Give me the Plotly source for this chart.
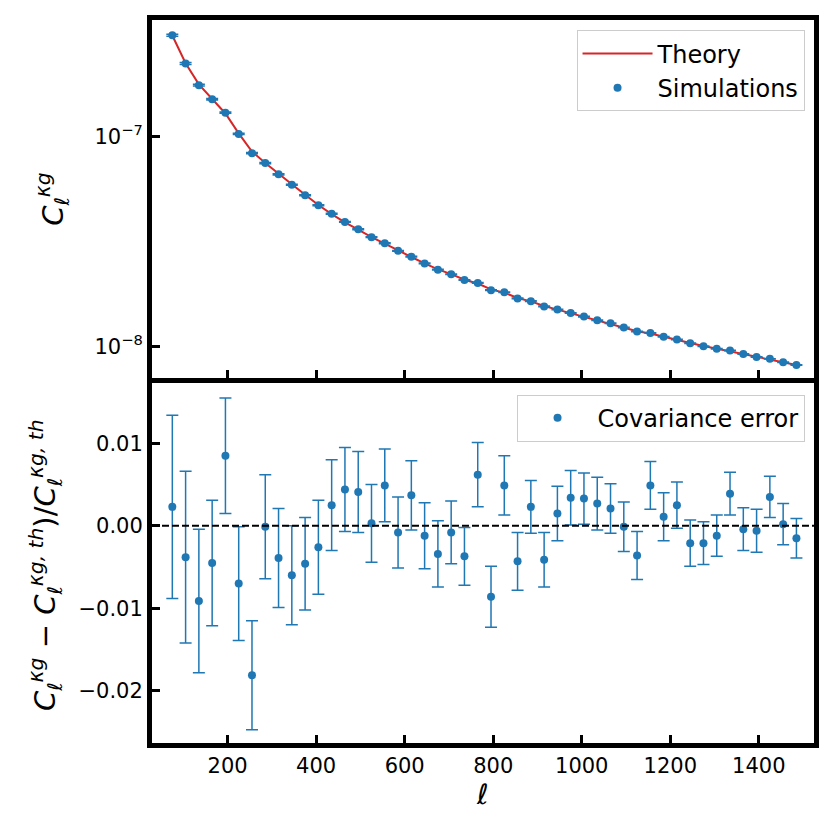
import plotly.graph_objects as go
from plotly.subplots import make_subplots

# multipole bin centres
ell = [75, 105, 135, 165, 195, 225, 255, 285, 315, 345, 375, 405, 435, 465, 495, 525,
       555, 585, 615, 645, 675, 705, 735, 765, 795, 825, 855, 885, 915, 945, 975, 1005,
       1035, 1065, 1095, 1125, 1155, 1185, 1215, 1245, 1275, 1305, 1335, 1365, 1395,
       1425, 1455, 1485]

# C_ell^{kg}, in units of 1e-7
cl_theory = [3.050, 2.250, 1.783, 1.519, 1.294, 1.040, 0.852, 0.750, 0.665, 0.594,
             0.529, 0.473, 0.428, 0.391, 0.361, 0.332, 0.309, 0.286, 0.267, 0.249,
             0.233, 0.221, 0.208, 0.1995, 0.1869, 0.1803, 0.1700, 0.1639, 0.1557, 0.1497,
             0.1438, 0.1381, 0.1328, 0.1285, 0.1230, 0.1181, 0.1152, 0.1110, 0.1075,
             0.1036, 0.1003, 0.0974, 0.0950, 0.0919, 0.0890, 0.0868, 0.0840, 0.0815]
cl_sim = [3.057, 2.2415, 1.7668, 1.5122, 1.3050, 1.0327, 0.8366, 0.7499, 0.6624, 0.5904,
          0.5266, 0.4718, 0.4291, 0.3927, 0.3625, 0.3321, 0.3105, 0.2858, 0.2680, 0.2487,
          0.2322, 0.2208, 0.2072, 0.2007, 0.1853, 0.1812, 0.1693, 0.1643, 0.1551, 0.1499,
          0.1443, 0.1386, 0.1332, 0.1288, 0.1230, 0.1177, 0.1158, 0.1111, 0.1078, 0.1034,
          0.1001, 0.0973, 0.0954, 0.0919, 0.0889, 0.0871, 0.0840, 0.0814]

# (sim - theory) / theory and its covariance error
frac_diff = [0.0023, -0.0038, -0.0091, -0.0045, 0.0085, -0.0070, -0.0181, -0.0001,
             -0.0039, -0.0060, -0.0046, -0.0026, 0.0025, 0.0044, 0.0041, 0.0003,
             0.0049, -0.0008, 0.0037, -0.0012, -0.0034, -0.0008, -0.0037, 0.0062,
             -0.0086, 0.0049, -0.0043, 0.0023, -0.0041, 0.0015, 0.0034, 0.0033,
             0.0027, 0.0021, -0.0001, -0.0036, 0.0049, 0.0011, 0.0025, -0.0021,
             -0.0021, -0.0012, 0.0039, -0.0004, -0.0006, 0.0035, 0.0002, -0.0015]
frac_err = [0.0111, 0.0104, 0.0087, 0.0076, 0.0070, 0.0069, 0.0066, 0.0063, 0.0060,
            0.0060, 0.0056, 0.0057, 0.0055, 0.0051, 0.0049, 0.0047, 0.0044, 0.0043,
            0.0042, 0.0040, 0.0040, 0.0038, 0.0035, 0.0039, 0.0037, 0.0036, 0.0035,
            0.0032, 0.0033, 0.0033, 0.0033, 0.0031, 0.0032, 0.0030, 0.0030, 0.0029,
            0.0029, 0.0029, 0.0028, 0.0028, 0.0026, 0.0025, 0.0026, 0.0026, 0.0026,
            0.0025, 0.0025, 0.0024]

x_ticks = [200, 400, 600, 800, 1000, 1200, 1400]
top_ticks = [1e-8, 1e-7]
top_ticktext = ['10<sup>\u22128</sup>', '10<sup>\u22127</sup>']
bottom_ticks = [-0.02, -0.01, 0.0, 0.01]

BLUE = '#1f77b4'
RED = '#d62728'
FONT = 'DejaVu Sans'

scale = 1e-7
th = [v * scale for v in cl_theory]
sim = [v * scale for v in cl_sim]
sim_err = [v * e for v, e in zip(sim, frac_err)]

fig = make_subplots(rows=2, cols=1)

fig.add_trace(go.Scatter(x=ell, y=th, mode='lines', name='Theory',
                         line=dict(color=RED, width=2), legend='legend'),
              row=1, col=1)
fig.add_trace(go.Scatter(x=ell, y=sim, mode='markers', name='Simulations',
                         marker=dict(color=BLUE, size=8),
                         error_y=dict(type='data', array=sim_err, color=BLUE,
                                      thickness=1.5, width=6),
                         legend='legend'),
              row=1, col=1)
fig.add_trace(go.Scatter(x=ell, y=frac_diff, mode='markers', name='Covariance error',
                         marker=dict(color=BLUE, size=8),
                         error_y=dict(type='data', array=frac_err, color=BLUE,
                                      thickness=1.5, width=6),
                         legend='legend2'),
              row=2, col=1)

# zero reference line
fig.add_shape(type='line', xref='x2 domain', x0=0, x1=1, yref='y2', y0=0, y1=0,
              line=dict(color='black', width=2, dash='7px,3px'))

axis_common = dict(showline=True, linewidth=5, linecolor='black', ticks='inside',
                   ticklen=8, tickwidth=3, tickcolor='black', showgrid=False,
                   zeroline=False, tickfont=dict(size=21, color='black', family=FONT))

legend_common = dict(xanchor='right', yanchor='top', bgcolor='white',
                     bordercolor='#cccccc', borderwidth=1, itemwidth=70,
                     font=dict(size=24, family=FONT, color='black'))

fig.update_layout(
    xaxis=dict(domain=[0, 1], range=[29.1, 1524.7], tickvals=x_ticks, mirror=True,
               showticklabels=False, anchor='y', **axis_common),
    xaxis2=dict(domain=[0, 1], range=[29.1, 1524.7], tickvals=x_ticks, mirror=False,
                anchor='y2', **axis_common),
    yaxis=dict(domain=[0.5045, 1], type='log', range=[-8.1526, -6.4417],
               tickvals=top_ticks, ticktext=top_ticktext, mirror=True,
               anchor='x', **axis_common),
    yaxis2=dict(domain=[0, 0.4976], range=[-0.02632, 0.01728],
                tickvals=bottom_ticks,
                ticktext=[('%.2f' % t).replace('-', '\u2212') for t in bottom_ticks],
                mirror=True, anchor='x2', **axis_common),
    legend=dict(x=0.9857, y=0.9856, **legend_common),
    legend2=dict(x=0.9857, y=0.4818, **legend_common),
    annotations=[
        dict(text='<i>C</i><sub><i>\u2113</i></sub><sup><i>\u03bag</i></sup>',
             xref='paper', yref='paper', x=-0.1501, y=0.7522, textangle=-90,
             showarrow=False, xanchor='center', yanchor='middle',
             font=dict(size=29, family=FONT, color='black')),
        dict(text='<i>C</i><sub><i>\u2113</i></sub><sup><i>\u03bag</i></sup> \u2212 '
                  '<i>C</i><sub><i>\u2113</i></sub><sup><i>\u03bag, th</i></sup>)/'
                  '<i>C</i><sub><i>\u2113</i></sub><sup><i>\u03bag, th</i></sup>',
             xref='paper', yref='paper', x=-0.1606, y=0.2457, textangle=-90,
             showarrow=False, xanchor='center', yanchor='middle',
             font=dict(size=29, family=FONT, color='black')),
        dict(text='<i>\u2113</i>', xref='paper', yref='paper', x=0.4985, y=-0.0714,
             showarrow=False, xanchor='center', yanchor='middle',
             font=dict(size=28, family=FONT, color='black')),
    ],
    width=830, height=830,
    margin=dict(l=143.5, r=23.5, t=6.5, b=95),
    plot_bgcolor='white', paper_bgcolor='white',
    font=dict(family=FONT, color='black'),
)

fig.write_html("out.html")
